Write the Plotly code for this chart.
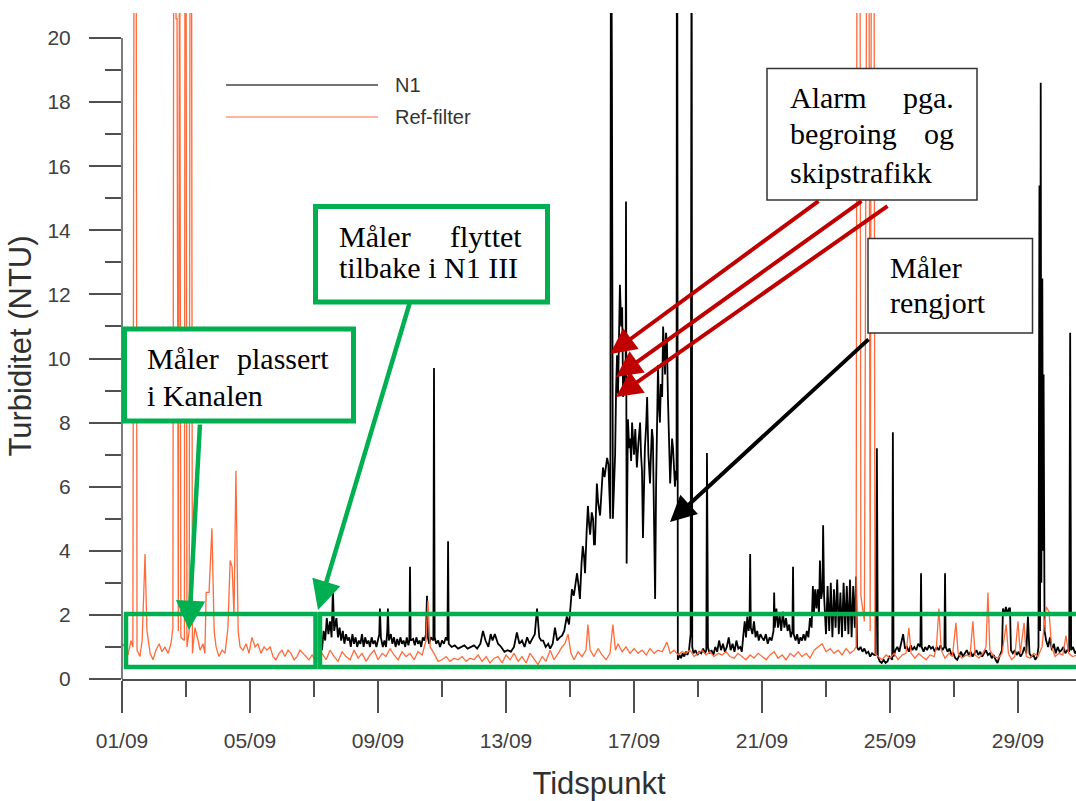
import pandas as pd
import plotly.graph_objects as go

# ---------------- data (day offset from 01/09, turbidity NTU) ----------------
ref_day = [
    0.00, 0.10, 0.19, 0.28, 0.34, 0.38, 0.44, 0.47, 0.56, 0.63,
    0.72, 0.78, 0.88, 0.97, 1.06, 1.16, 1.25, 1.34, 1.44, 1.53,
    1.59, 1.62, 1.69, 1.72, 1.76, 1.80, 1.84, 1.95, 1.97, 2.00,
    2.03, 2.10, 2.13, 2.17, 2.20, 2.28, 2.38, 2.44, 2.53, 2.59,
    2.63, 2.72, 2.81, 2.88, 2.94, 3.03, 3.13, 3.22, 3.31, 3.38,
    3.44, 3.50, 3.56, 3.63, 3.69, 3.78, 3.88, 3.97, 4.06, 4.16,
    4.25, 4.34, 4.44, 4.53, 4.63, 4.72, 4.81, 4.91, 5.00, 5.09,
    5.19, 5.28, 5.38, 5.47, 5.56, 5.66, 5.75, 5.84, 5.94, 6.03,
    6.13, 6.25, 6.38, 6.50, 6.63, 6.75, 6.88, 7.00, 7.13, 7.25,
    7.38, 7.50, 7.63, 7.75, 7.88, 8.00, 8.13, 8.25, 8.38, 8.50,
    8.63, 8.75, 8.88, 9.00, 9.13, 9.25, 9.38, 9.50, 9.56, 9.63,
    9.75, 9.88, 10.00, 10.13, 10.25, 10.38, 10.50, 10.63, 10.75, 10.88,
    11.00, 11.13, 11.25, 11.38, 11.50, 11.63, 11.75, 11.88, 12.00, 12.13,
    12.25, 12.38, 12.50, 12.63, 12.75, 12.88, 13.00, 13.13, 13.25, 13.38,
    13.50, 13.63, 13.75, 13.84, 13.94, 14.03, 14.13, 14.25, 14.38, 14.50,
    14.56, 14.63, 14.75, 14.88, 15.00, 15.13, 15.25, 15.34, 15.42, 15.50,
    15.63, 15.75, 15.88, 16.00, 16.13, 16.25, 16.38, 16.50, 16.63, 16.75,
    16.88, 17.03, 17.13, 17.25, 17.38, 17.50, 17.63, 17.75, 17.88, 18.00,
    18.13, 18.25, 18.38, 18.50, 18.63, 18.75, 18.88, 19.00, 19.13, 19.25,
    19.38, 19.50, 19.63, 19.75, 19.88, 20.00, 20.13, 20.25, 20.38, 20.50,
    20.63, 20.75, 20.88, 21.00, 21.13, 21.25, 21.38, 21.50, 21.63, 21.75,
    21.88, 22.00, 22.13, 22.25, 22.38, 22.50, 22.63, 22.75, 22.88, 22.94,
    22.97, 23.06, 23.09, 23.20, 23.28, 23.34, 23.38, 23.42, 23.50, 23.53,
    23.63, 23.75, 23.88, 24.00, 24.13, 24.25, 24.38, 24.50, 24.59, 24.66,
    24.78, 24.90, 25.00, 25.13, 25.25, 25.38, 25.45, 25.53, 25.60, 25.72,
    25.84, 25.95, 26.06, 26.13, 26.25, 26.38, 26.50, 26.59, 26.66, 26.78,
    26.90, 27.00, 27.06, 27.12, 27.25, 27.38, 27.50, 27.63, 27.70, 27.80,
    27.90, 28.00, 28.07, 28.19, 28.26, 28.38, 28.50, 28.62, 28.75, 28.88,
    28.97, 29.05, 29.16, 29.28, 29.40, 29.50, 29.58, 29.70, 29.85,
]
ref_val = [
    1.1, 1.0, 0.75, 1.2, 1.0, 26, 26, 0.9, 0.7, 1.2,
    3.9, 1.5, 0.8, 0.6, 0.9, 1.1, 0.85, 1.0, 0.8, 1.1,
    1.6, 26, 20.6, 20.6, 1.5, 26, 1.3, 1.2, 26, 26,
    1.0, 1.5, 26, 26, 0.8, 1.6, 1.2, 0.9, 1.1, 0.8,
    2.7, 2.7, 4.7, 1.5, 1.0, 0.7, 0.9, 0.8, 1.6, 3.7,
    3.5, 2.0, 6.5, 1.5, 1.0, 0.9, 1.1, 0.8, 1.3, 1.0,
    1.1, 0.8, 1.0, 0.9, 1.0, 0.7, 0.6, 0.8, 0.9, 0.7,
    0.9, 0.8, 0.6, 0.7, 0.9, 0.8, 0.7, 0.6, 0.75, 0.6,
    0.65, 0.8, 0.6, 0.9, 0.7, 0.55, 0.85, 0.7, 0.6, 0.9,
    0.65, 0.8, 0.55, 0.75, 0.9, 0.6, 0.8, 0.7, 0.95, 0.75,
    0.6, 0.85, 0.7, 0.8, 0.6, 0.85, 0.75, 1.2, 2.45, 1.0,
    0.8, 0.55, 0.6, 0.7, 0.55, 0.65, 0.6, 0.7, 0.55, 0.65,
    0.6, 0.75, 0.55, 0.7, 0.5, 0.65, 0.7, 0.5, 0.75, 0.6,
    0.8, 0.55, 0.7, 0.5, 0.8, 0.6, 0.45, 0.7, 0.55, 0.9,
    0.6, 0.8, 1.0, 1.1, 1.4, 0.8, 0.6, 0.85, 0.7, 0.9,
    1.7, 0.9, 0.7, 0.95, 0.75, 0.6, 0.8, 1.7, 0.9, 1.1,
    0.85, 1.0, 0.8, 0.95, 0.8, 0.9, 0.75, 0.95, 0.8, 0.9,
    0.85, 1.15, 0.8, 0.9, 0.75, 0.85, 0.8, 0.9, 0.7, 0.8,
    0.9, 0.75, 0.85, 0.7, 0.8, 0.75, 0.85, 0.7, 0.65, 0.8,
    0.7, 0.6, 0.75, 0.65, 0.8, 0.7, 0.6, 0.75, 0.85, 0.65,
    0.75, 0.6, 0.8, 0.7, 0.85, 0.7, 0.8, 0.65, 0.9, 1.0,
    1.1, 0.85, 0.95, 0.8, 0.9, 0.75, 0.95, 0.8, 0.9, 1.0,
    26, 26, 2.6, 1.8, 26, 26, 1.5, 26, 26, 0.8,
    0.7, 0.6, 0.75, 0.65, 0.8, 0.6, 0.75, 0.8, 1.6, 0.8,
    0.65, 0.8, 0.7, 0.6, 0.75, 0.7, 1.0, 2.2, 0.9, 0.65,
    0.8, 0.7, 1.75, 0.8, 0.65, 0.75, 0.7, 1.8, 0.75, 0.65,
    0.8, 1.0, 2.7, 0.9, 0.7, 0.65, 0.8, 1.7, 0.8, 0.6,
    0.7, 1.8, 0.8, 1.75, 0.7, 0.65, 0.8, 0.7, 1.0, 2.25,
    2.1, 1.0, 0.7, 0.8, 0.75, 1.35, 0.8, 0.7, 0.75,
]

n1_day = [
    6.16, 6.20, 6.25, 6.30, 6.35, 6.40, 6.45, 6.50, 6.55, 6.59,
    6.63, 6.70, 6.75, 6.80, 6.85, 6.90, 6.95, 7.00, 7.05, 7.10,
    7.15, 7.20, 7.25, 7.30, 7.35, 7.40, 7.45, 7.50, 7.55, 7.60,
    7.65, 7.70, 7.75, 7.80, 7.85, 7.90, 7.95, 8.00, 8.04, 8.06,
    8.09, 8.15, 8.20, 8.25, 8.29, 8.31, 8.34, 8.40, 8.45, 8.50,
    8.55, 8.60, 8.65, 8.70, 8.75, 8.80, 8.85, 8.90, 8.95, 8.98,
    9.00, 9.02, 9.10, 9.15, 9.20, 9.25, 9.30, 9.35, 9.40, 9.45,
    9.50, 9.53, 9.56, 9.60, 9.65, 9.73, 9.75, 9.77, 9.82, 9.88,
    9.94, 10.00, 10.06, 10.12, 10.17, 10.19, 10.21, 10.30, 10.40, 10.50,
    10.60, 10.70, 10.80, 10.90, 11.00, 11.10, 11.20, 11.28, 11.36, 11.45,
    11.52, 11.58, 11.65, 11.75, 11.85, 11.95, 12.05, 12.15, 12.25, 12.34,
    12.42, 12.50, 12.58, 12.66, 12.74, 12.82, 12.90, 12.97, 13.04, 13.10,
    13.16, 13.24, 13.32, 13.38, 13.46, 13.53, 13.60, 13.68, 13.75, 13.82,
    13.90, 13.97, 14.03, 14.06, 14.12, 14.18, 14.22, 14.27, 14.31, 14.36,
    14.40, 14.44, 14.47, 14.52, 14.56, 14.60, 14.63, 14.68, 14.72, 14.75,
    14.78, 14.84, 14.88, 14.94, 14.98, 15.03, 15.08, 15.13, 15.16, 15.20,
    15.23, 15.26, 15.28, 15.29, 15.31, 15.34, 15.38, 15.41, 15.44, 15.47,
    15.50, 15.53, 15.56, 15.60, 15.63, 15.66, 15.70, 15.74, 15.75, 15.77,
    15.81, 15.85, 15.88, 15.91, 15.94, 15.97, 16.00, 16.04, 16.09, 16.14,
    16.19, 16.22, 16.25, 16.28, 16.31, 16.34, 16.38, 16.41, 16.45, 16.50,
    16.53, 16.56, 16.59, 16.63, 16.66, 16.69, 16.72, 16.75, 16.78, 16.81,
    16.84, 16.88, 16.91, 16.94, 16.97, 17.00, 17.03, 17.06, 17.10, 17.13,
    17.16, 17.19, 17.22, 17.25, 17.28, 17.31, 17.33, 17.34, 17.35, 17.37,
    17.42, 17.47, 17.52, 17.57, 17.62, 17.67, 17.72, 17.77, 17.79, 17.80,
    17.82, 17.86, 17.92, 17.98, 18.04, 18.10, 18.16, 18.22, 18.26, 18.28,
    18.30, 18.31, 18.36, 18.42, 18.48, 18.54, 18.60, 18.66, 18.72, 18.78,
    18.84, 18.90, 18.96, 19.02, 19.08, 19.14, 19.20, 19.26, 19.32, 19.37,
    19.42, 19.46, 19.50, 19.54, 19.58, 19.61, 19.63, 19.65, 19.70, 19.75,
    19.80, 19.85, 19.90, 19.95, 20.00, 20.06, 20.12, 20.18, 20.24, 20.30,
    20.36, 20.38, 20.40, 20.45, 20.50, 20.55, 20.60, 20.65, 20.70, 20.75,
    20.80, 20.85, 20.90, 20.95, 20.97, 20.99, 21.05, 21.10, 21.15, 21.20,
    21.25, 21.30, 21.35, 21.40, 21.45, 21.50, 21.55, 21.59, 21.62, 21.66,
    21.70, 21.74, 21.78, 21.81, 21.85, 21.89, 21.91, 21.94, 22.00, 22.05,
    22.10, 22.15, 22.20, 22.25, 22.30, 22.35, 22.40, 22.45, 22.50, 22.55,
    22.60, 22.65, 22.70, 22.75, 22.80, 22.85, 22.90, 22.94, 22.97, 23.02,
    23.08, 23.14, 23.20, 23.26, 23.32, 23.38, 23.44, 23.50, 23.55, 23.59,
    23.62, 23.68, 23.74, 23.80, 23.86, 23.92, 23.98, 24.04, 24.07, 24.09,
    24.11, 24.17, 24.23, 24.29, 24.35, 24.41, 24.47, 24.53, 24.59, 24.65,
    24.70, 24.76, 24.82, 24.88, 24.95, 24.97, 24.99, 25.05, 25.10, 25.16,
    25.22, 25.28, 25.34, 25.40, 25.46, 25.52, 25.58, 25.64, 25.70, 25.72,
    25.74, 25.80, 25.86, 25.92, 25.98, 26.04, 26.10, 26.16, 26.22, 26.28,
    26.34, 26.40, 26.46, 26.52, 26.58, 26.64, 26.70, 26.76, 26.82, 26.88,
    26.94, 27.00, 27.06, 27.12, 27.18, 27.24, 27.30, 27.36, 27.42, 27.50,
    27.53, 27.58, 27.62, 27.67, 27.72, 27.75, 27.78, 27.84, 27.90, 27.96,
    28.02, 28.08, 28.14, 28.20, 28.26, 28.31, 28.36, 28.42, 28.48, 28.54,
    28.60, 28.64, 28.67, 28.69, 28.71, 28.73, 28.76, 28.78, 28.80, 28.83,
    28.88, 28.94, 29.00, 29.06, 29.12, 29.18, 29.24, 29.30, 29.36, 29.42,
    29.48, 29.54, 29.60, 29.63, 29.66, 29.72, 29.78, 29.85,
]
n1_val = [
    0.85, 1.2, 0.9, 1.5, 1.2, 1.9, 1.4, 1.8, 1.3, 2.8,
    1.5, 1.9, 1.3, 1.6, 1.2, 1.5, 1.1, 1.4, 1.2, 1.3,
    1.0, 1.4, 1.1, 1.3, 1.0, 1.2, 1.1, 1.4, 1.0, 1.3,
    1.1, 1.2, 1.0, 1.3, 1.1, 1.2, 1.0, 1.2, 1.4, 2.2,
    1.3, 1.0, 1.2, 1.0, 1.5, 2.2, 1.2, 1.4, 1.1, 1.3,
    1.0, 1.25, 1.05, 1.3, 1.1, 1.2, 1.0, 1.3, 1.05, 1.2,
    3.5, 1.2, 1.25, 1.05, 1.3, 1.1, 1.2, 1.0, 1.3, 1.2,
    1.4, 2.6, 1.3, 1.1, 1.3, 1.2, 9.7, 1.3, 1.1, 1.2,
    1.0, 1.2, 1.1, 1.3, 1.2, 4.3, 1.1, 1.0, 1.05, 0.95,
    1.0, 1.05, 0.95, 1.0, 1.05, 0.95, 1.1, 1.5, 1.2, 1.0,
    1.4, 1.2, 1.4, 1.1, 1.0, 0.85, 0.9, 0.85, 1.0, 1.45,
    1.1, 1.2, 1.0, 1.3, 1.1, 1.25, 1.4, 2.2, 1.3, 1.2,
    1.2, 1.0, 1.1, 0.95, 1.1, 1.6, 1.2, 1.3, 1.35, 1.5,
    1.95, 1.7, 2.4, 2.8, 2.6, 3.0, 3.3, 2.9, 2.5, 3.6,
    4.15, 3.8, 3.3, 4.6, 5.4, 4.8, 4.5, 5.2, 5.0, 4.2,
    4.2, 6.1, 5.5, 5.1, 6.0, 6.6, 6.3, 6.8, 6.9, 6.7,
    5.5, 5.0, 26, 26, 19.0, 5.0, 6.0, 7.0, 9.0, 10.1,
    8.9, 10.5, 12.3, 11.0, 11.6, 8.8, 9.5, 10.0, 14.9, 3.6,
    8.1, 7.2, 7.5, 6.8, 8.0, 7.3, 7.0, 7.8, 6.6, 7.4,
    8.0, 7.0, 6.5, 4.4, 6.0, 7.2, 7.9, 8.8, 7.0, 6.1,
    7.0, 7.8, 7.5, 5.0, 2.5, 6.0, 8.0, 9.8, 8.5, 8.0,
    9.2, 8.8, 11.0, 10.2, 9.5, 10.8, 10.5, 8.8, 7.5, 6.1,
    6.8, 7.5, 7.2, 6.5, 6.0, 6.5, 6.2, 26, 26, 0.6,
    0.75, 0.65, 0.8, 0.7, 0.85, 0.75, 0.9, 1.4, 26, 26,
    1.0, 0.8, 0.9, 0.75, 0.85, 0.8, 0.95, 0.8, 0.9, 7.05,
    3.6, 1.0, 0.8, 0.9, 0.75, 1.0, 0.85, 1.2, 0.9, 1.1,
    0.85, 1.0, 1.3, 0.9, 1.1, 0.85, 1.2, 0.95, 1.0, 0.85,
    1.4, 1.8, 1.3, 1.95, 1.5, 1.7, 3.9, 1.6, 1.4, 1.8,
    1.3, 1.5, 1.2, 1.4, 1.3, 1.2, 1.4, 1.1, 1.3, 1.2,
    1.5, 2.7, 1.6, 2.2, 1.6, 2.0, 1.5, 2.1, 1.6, 1.9,
    1.5, 1.7, 1.3, 1.5, 3.5, 1.4, 1.2, 1.4, 1.1, 1.3,
    1.2, 1.4, 1.2, 1.5, 1.3, 1.9, 1.6, 2.9, 2.0, 2.8,
    2.2, 2.8, 2.0, 3.7, 2.5, 2.8, 4.8, 2.6, 1.4, 2.9,
    1.5, 3.0, 1.3, 2.8, 1.6, 3.1, 1.4, 2.7, 1.3, 3.0,
    1.5, 2.9, 1.4, 3.1, 1.3, 2.9, 1.6, 3.2, 1.0, 0.9,
    1.0, 0.85, 0.95, 0.8, 0.85, 0.7, 0.8, 0.75, 0.75, 7.2,
    0.7, 0.55, 0.5, 0.6, 0.5, 0.55, 0.7, 0.65, 0.6, 7.7,
    0.7, 0.9, 1.0, 0.85, 1.1, 1.4, 0.95, 1.0, 0.85, 1.05,
    0.9, 1.0, 0.9, 1.1, 1.0, 3.3, 1.0, 0.85, 1.0, 0.9,
    1.05, 0.95, 1.0, 0.85, 1.0, 0.9, 1.05, 0.9, 1.0, 3.3,
    1.0, 0.85, 0.95, 0.75, 0.8, 0.65, 0.6, 0.75, 0.85, 0.7,
    0.8, 0.9, 0.75, 0.85, 0.7, 0.8, 0.9, 0.75, 0.85, 0.7,
    0.8, 0.9, 0.75, 0.8, 0.65, 0.75, 0.6, 0.5, 0.7, 0.9,
    2.2, 2.0, 2.25, 2.05, 2.2, 2.2, 0.9, 0.8, 0.9, 0.75,
    0.85, 0.7, 0.8, 1.0, 0.8, 1.95, 0.8, 0.7, 0.75, 0.6,
    0.7, 1.0, 15.4, 1.5, 18.6, 3.0, 12.5, 4.0, 9.5, 1.5,
    1.2, 1.0, 1.3, 0.9, 1.1, 0.8, 1.0, 0.85, 0.9, 1.0,
    0.8, 0.9, 0.85, 10.8, 0.9, 1.0, 0.8, 0.9,
]

series_names = ["N1", "Ref-filter"]
x_tick_format = "%d/%m"
x_title = "Tidspunkt"
y_title = "Turbiditet (NTU)"
y_ticks = [0, 2, 4, 6, 8, 10, 12, 14, 16, 18, 20]

assert len(ref_day) == len(ref_val)
assert len(n1_day) == len(n1_val)

base = pd.Timestamp("2015-09-01")
ref_t = base + pd.to_timedelta(ref_day, unit="D")
n1_t = base + pd.to_timedelta(n1_day, unit="D")

# ---------------- geometry helpers (layout pixels -> paper) ----------------
W, H = 1076, 801
ML, MR, MT, MB = 122, 0, 13, 122
PW, PH = W - ML - MR, H - MT - MB


def px(x):
    return (x - ML) / PW


def py(y):
    return (H - MB - y) / PH


GREEN = "#00B050"
RED = "#C00000"
ORANGE = "#FF6A3A"
AXC = "#505050"
TXT = "#404040"
SANS = "Liberation Sans, Arial, sans-serif"
SERIF = "Liberation Serif, Times New Roman, serif"

fig = go.Figure()
fig.add_trace(go.Scatter(x=n1_t, y=n1_val, mode="lines", name=series_names[0],
                         line=dict(color="#000000", width=1.8), showlegend=False))
fig.add_trace(go.Scatter(x=ref_t, y=ref_val, mode="lines", name=series_names[1],
                         line=dict(color=ORANGE, width=1.3), showlegend=False))

x_end = base + pd.Timedelta(days=PW / 32.0)
y_top = (H - MB - MT) / 32.05

fig.update_layout(
    width=W, height=H,
    margin=dict(l=ML, r=MR, t=MT, b=MB, pad=0),
    paper_bgcolor="white", plot_bgcolor="white",
    showlegend=False,
    xaxis=dict(
        type="date", range=[base, x_end],
        showgrid=False, zeroline=False,
        showline=True, linecolor=AXC, linewidth=1.5,
        ticks="outside", ticklen=32, tickwidth=1.5, tickcolor=AXC,
        tick0=base, dtick=4 * 86400000, tickformat=x_tick_format,
        tickfont=dict(family=SANS, size=21, color=TXT),
        ticklabelstandoff=10,
        minor=dict(ticks="outside", ticklen=16, tickwidth=1.5, tickcolor=AXC,
                   dtick=2 * 86400000, tick0=base, showgrid=False),
        title=dict(text=x_title, font=dict(family=SANS, size=31, color="#303030"), standoff=22),
        automargin=False,
    ),
    yaxis=dict(
        range=[0, y_top],
        showgrid=False, zeroline=False, showline=False,
        ticks="outside", ticklen=32, tickwidth=1.5, tickcolor=AXC,
        tickmode="array", tickvals=y_ticks,
        tickfont=dict(family=SANS, size=21, color=TXT),
        ticklabelstandoff=14,
        minor=dict(ticks="outside", ticklen=16, tickwidth=1.5, tickcolor=AXC,
                   dtick=1, tick0=0, showgrid=False),
        title=dict(text=y_title, font=dict(family=SANS, size=31, color="#303030"), standoff=6),
        automargin=False,
    ),
)

shapes = []
# y axis line (0..20)
shapes.append(dict(type="line", xref="paper", yref="y", x0=0, x1=0, y0=0, y1=20,
                   line=dict(color=AXC, width=1.5), layer="above"))
# legend lines
shapes.append(dict(type="line", xref="paper", yref="paper", x0=px(226), x1=px(378),
                   y0=py(85), y1=py(85), line=dict(color="#444444", width=1.5)))
shapes.append(dict(type="line", xref="paper", yref="paper", x0=px(226), x1=px(378),
                   y0=py(117), y1=py(117), line=dict(color="#FF9C80", width=1.5)))
# green baseline rectangles
shapes.append(dict(type="rect", xref="paper", yref="paper", x0=px(126), x1=px(315.5),
                   y0=py(667), y1=py(614), line=dict(color=GREEN, width=4.5), layer="above"))
shapes.append(dict(type="rect", xref="paper", yref="paper", x0=px(320), x1=px(1085),
                   y0=py(667), y1=py(614), line=dict(color=GREEN, width=4.5), layer="above"))
# text boxes
shapes.append(dict(type="rect", xref="paper", yref="paper", x0=px(124.5), x1=px(353.5),
                   y0=py(421), y1=py(329), line=dict(color=GREEN, width=5),
                   fillcolor="white", layer="above"))
shapes.append(dict(type="rect", xref="paper", yref="paper", x0=px(315.5), x1=px(547.5),
                   y0=py(302), y1=py(206.5), line=dict(color=GREEN, width=5),
                   fillcolor="white", layer="above"))
shapes.append(dict(type="rect", xref="paper", yref="paper", x0=px(767), x1=px(977),
                   y0=py(200), y1=py(68.5), line=dict(color="#333333", width=1.5),
                   fillcolor="white", layer="above"))
shapes.append(dict(type="rect", xref="paper", yref="paper", x0=px(868), x1=px(1032.5),
                   y0=py(333), y1=py(238.5), line=dict(color="#333333", width=1.5),
                   fillcolor="white", layer="above"))
fig.update_layout(shapes=shapes)

ann = []


def text(s, x, y, anchor="left", size=30):
    ann.append(dict(text=s, xref="paper", yref="paper", x=px(x), y=py(y),
                    xanchor=anchor, yanchor="middle", showarrow=False,
                    font=dict(family=SERIF, size=size, color="#000000")))


def arrow(tip, tail, color, width=4):
    ann.append(dict(text="", xref="paper", yref="paper", x=px(tip[0]), y=py(tip[1]),
                    ax=tail[0] - tip[0], ay=tail[1] - tip[1], axref="pixel", ayref="pixel",
                    showarrow=True, arrowhead=2, arrowsize=1.3, arrowwidth=width,
                    arrowcolor=color, standoff=0))


# legend labels
ann.append(dict(text=series_names[0], xref="paper", yref="paper", x=px(393), y=py(85),
                xanchor="left", yanchor="middle", showarrow=False,
                font=dict(family=SANS, size=20, color="#333333")))
ann.append(dict(text=series_names[1], xref="paper", yref="paper", x=px(393), y=py(117),
                xanchor="left", yanchor="middle", showarrow=False,
                font=dict(family=SANS, size=20, color="#333333")))

# box texts
text("Måler", 145, 358)
text("plassert", 331, 358, "right")
text("i Kanalen", 145, 395)

text("Måler", 337, 237)
text("flyttet", 524, 237, "right")
text("tilbake i N1 III", 337, 267)

text("Alarm", 788, 97)
text("pga.", 956, 97, "right")
text("begroing", 788, 133)
text("og", 956, 133, "right")
text("skipstrafikk", 788, 172)

text("Måler", 888, 267)
text("rengjort", 888, 303)

# arrows
arrow((189, 630), (200, 423), GREEN, 4.5)
arrow((318, 610), (410, 302), GREEN, 4.5)
arrow((610, 354), (820, 200), RED)
arrow((616, 377), (863, 200), RED)
arrow((616, 397), (889, 205), RED)
arrow((670, 522), (870, 338), "#000000")

fig.update_layout(annotations=ann)
fig.write_html("out.html")
